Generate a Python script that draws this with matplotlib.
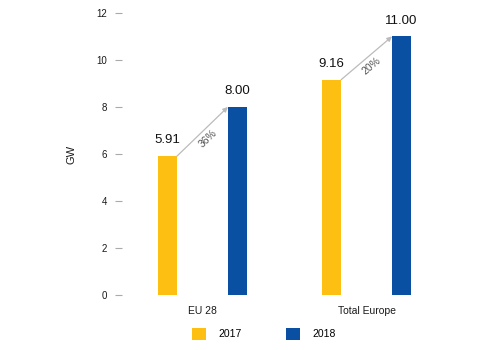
import matplotlib
matplotlib.use("Agg")
import matplotlib.pyplot as plt
from matplotlib.patches import Patch
import numpy as np

plt.rcParams['font.family'] = ['Liberation Sans', 'DejaVu Sans']

categories = ["EU 28", "Total Europe"]
series_names = ["2017", "2018"]
values_2017 = [5.91, 9.16]
values_2018 = [8.00, 11.00]
growth_labels = ["36%", "20%"]
yticks = [0, 2, 4, 6, 8, 10, 12]

c17 = "#FDBF12"
c18 = "#0A50A2"

fig = plt.figure(figsize=(5, 3.5), dpi=100)
ax = fig.add_axes([0.244, 0.157, 0.65, 0.806])

x = np.arange(len(categories))
w = 0.116
off = 0.213
ax.bar(x - off, values_2017, width=w, color=c17)
ax.bar(x + off, values_2018, width=w, color=c18)

ax.set_xlim(-0.49, 1.49)
ax.set_ylim(0, 12)
ax.set_yticks(yticks)
ax.set_yticklabels([str(t) for t in yticks], fontsize=7, color="#1a1a1a")
ax.set_xticks(x)
ax.set_xticklabels(categories, fontsize=7.5, color="#1a1a1a")
ax.tick_params(axis='x', length=0, pad=8)
ax.tick_params(axis='y', length=5, width=0.8, color="#aaaaaa", pad=6, direction='out')
for s in ax.spines.values():
    s.set_visible(False)
ax.set_ylabel("GW", fontsize=8, color="#1a1a1a", labelpad=14)

for i in range(len(categories)):
    ax.text(x[i] - off, values_2017[i] + 0.42, f"{values_2017[i]:.2f}",
            ha='center', va='bottom', fontsize=9.5, color="#111111")
    ax.text(x[i] + off, values_2018[i] + 0.42, f"{values_2018[i]:.2f}",
            ha='center', va='bottom', fontsize=9.5, color="#111111")

fig.canvas.draw()
for i in range(len(categories)):
    p0 = (x[i] - off + w / 2, values_2017[i])
    p1 = (x[i] + off - w / 2, values_2018[i])
    ax.annotate("", xy=p1, xytext=p0,
                arrowprops=dict(arrowstyle="-|>", color="#bbbbbb", lw=0.9,
                                mutation_scale=7, shrinkA=0, shrinkB=0))
    d0 = ax.transData.transform(p0)
    d1 = ax.transData.transform(p1)
    ang = np.degrees(np.arctan2(d1[1] - d0[1], d1[0] - d0[0]))
    mid = ((p0[0] + p1[0]) / 2, (p0[1] + p1[1]) / 2)
    r = np.radians(ang)
    dist = 7
    ax.annotate(growth_labels[i], xy=mid, xytext=(dist * np.sin(r) - 1, -dist * np.cos(r)),
                textcoords='offset points', ha='center', va='center',
                rotation=ang, rotation_mode='anchor', fontsize=7.5, color="#555555")

handles = [Patch(facecolor=c17), Patch(facecolor=c18)]
fig.legend(handles, series_names, loc='center', bbox_to_anchor=(0.528, 0.046),
           ncol=2, frameon=False, fontsize=7.5, handlelength=1.35, handleheight=1.35,
           columnspacing=4.2, handletextpad=1.2)

fig.savefig("out.png", dpi=100)
